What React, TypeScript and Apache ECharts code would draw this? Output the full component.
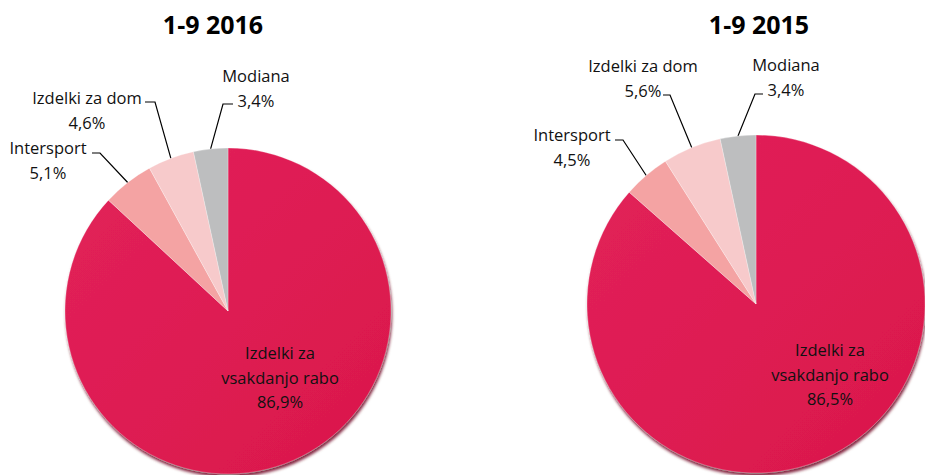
import React, { useEffect, useRef } from "react";
import * as echarts from "echarts";

const categories = ["Izdelki za vsakdanjo rabo", "Intersport", "Izdelki za dom", "Modiana"];
const values2016 = [86.9, 5.1, 4.6, 3.4];
const values2015 = [86.5, 4.5, 5.6, 3.4];
const titles = ["1-9 2016", "1-9 2015"];

const colors = ["#DE1B4E", "#F4A3A3", "#F7CACB", "#BDBEBF"];

type LabelPos = { x: number; y: number; end?: number[]; elbow?: number[] };

const pies = [
  { cx: 228, cy: 311, r: 163, titleX: 208 },
  { cx: 756, cy: 304, r: 169, titleX: 754 },
];

const labelPositions: LabelPos[][] = [
  [
    { x: 280, y: 377 },
    { x: 48, y: 160, end: [92, 153], elbow: [100, 153] },
    { x: 87, y: 110, end: [145, 102], elbow: [155, 102] },
    { x: 256, y: 88, end: [233, 104], elbow: [223, 104] },
  ],
  [
    { x: 830, y: 374 },
    { x: 572, y: 147, end: [615, 140], elbow: [623, 140] },
    { x: 643, y: 78, end: [663, 95], elbow: [670, 95] },
    { x: 786, y: 77, end: [763, 94], elbow: [755, 94] },
  ],
];

const FONT = "'Open Sans', 'Liberation Sans', sans-serif";

function fmt(v: number) {
  return v.toFixed(1).replace(".", ",") + "%";
}

function buildSeries(values: number[], idx: number) {
  const pie = pies[idx];
  const total = values.reduce((a, b) => a + b, 0);
  const starts: number[][] = [];
  let acc = 0;
  values.forEach((v) => {
    const mid = ((acc + v / 2) / total) * Math.PI * 2;
    starts.push([pie.cx + pie.r * Math.sin(mid), pie.cy - pie.r * Math.cos(mid)]);
    acc += v;
  });
  return {
    type: "pie",
    center: [pie.cx, pie.cy],
    radius: pie.r,
    startAngle: 90,
    clockwise: true,
    avoidLabelOverlap: false,
    silent: true,
    itemStyle: { borderColor: "rgba(255,255,255,0.45)", borderWidth: 0.6 },
    label: {
      show: true,
      position: "outside",
      fontFamily: FONT,
      fontSize: 16.5,
      lineHeight: 24.5,
      color: "#111",
      align: "center",
      formatter: (p: any) => `${p.name.replace("za vsakdanjo", "za\nvsakdanjo")}\n${fmt(p.value)}`,
    },
    labelLine: { show: true, lineStyle: { color: "#000", width: 1.2 }, length: 10, length2: 10 },
    labelLayout: (params: any) => {
      const p = labelPositions[idx][params.dataIndex];
      const out: any = { x: p.x, y: p.y, align: "center", verticalAlign: "middle" };
      if (p.end && p.elbow) {
        out.labelLinePoints = [starts[params.dataIndex], p.elbow, p.end];
      }
      return out;
    },
    data: values.map((v, i) => ({
      name: categories[i],
      value: v,
      itemStyle:
        i === 0
          ? {
              color: new echarts.graphic.LinearGradient(0, 0, 1, 1, [
                { offset: 0, color: "#E2225A" },
                { offset: 1, color: "#DA174B" },
              ]),
              shadowColor: "rgba(110,0,30,0.85)",
              shadowBlur: 3,
              shadowOffsetX: 1,
              shadowOffsetY: 3,
            }
          : { color: colors[i] },
      label: i === 0 ? { position: "inside" } : {},
      labelLine: i === 0 ? { show: false } : { show: true },
    })),
  };
}

export default function App() {
  const ref = useRef<HTMLDivElement>(null);
  useEffect(() => {
    if (!ref.current) return;
    const chart = echarts.init(ref.current, undefined, { renderer: "svg" });
    chart.setOption({
      animation: false,
      backgroundColor: "#fff",
      title: titles.map((t, i) => ({
        text: t,
        left: pies[i].titleX,
        top: 6,
        textAlign: "center",
        textStyle: { fontFamily: FONT, fontSize: 25, fontWeight: "bold", color: "#000" },
      })),
      series: [buildSeries(values2016, 0), buildSeries(values2015, 1)],
    });
    return () => chart.dispose();
  }, []);
  return (
    <div
      ref={ref}
      style={{ position: "fixed", left: 0, top: 0, width: 925, height: 475 }}
    />
  );
}
